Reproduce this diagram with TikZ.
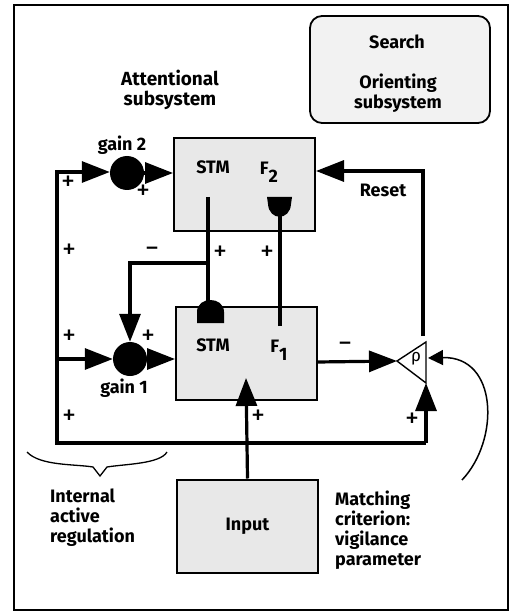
\documentclass[tikz,border=0pt]{standalone}
\usepackage{fontspec}
\setmainfont{Fira Sans}
\usetikzlibrary{arrows.meta}
\begin{document}
\begin{tikzpicture}[x=1pt,y=-1pt,
  line/.style={line width=3.2pt},
  arr/.style={-{Triangle[length=28pt,width=21pt]}},
  smallarr/.style={-{Triangle[length=15pt,width=15pt]}},
  box/.style={draw,line width=2pt,fill=gray!18,minimum width=141pt,minimum height=93pt,inner sep=0pt},
  gain/.style={circle,fill=black,minimum size=34pt,inner sep=0pt},
  lbl/.style={font=\bfseries\fontsize{18}{20}\selectfont,inner sep=0pt},
  sgn/.style={font=\fontsize{28}{28}\selectfont,inner sep=0pt},
  txt/.style={lbl,align=left,anchor=north west}]
\useasboundingbox (0,0) rectangle (510,612);
\draw[line width=1.5pt] (14,5) rectangle (508,610);
% boxes
\node[box] (F2) at (244.5,184.5) {};
\node[box] (F1) at (246.5,353.5) {};
\node[box] (In) at (247.5,526) {};
\node[lbl] at (In) {Input};
\node[lbl] (stm2) at (213,167) {STM};
\node[lbl] (f2) at (269,172) {F\raisebox{-0.45em}{2}};
\node[lbl] (stm1) at (213,345) {STM};
\node[lbl] (f1) at (279,350) {F\raisebox{-0.45em}{1}};
\node[draw,line width=1.8pt,rounded corners=12pt,fill=gray!10,minimum width=180pt,minimum height=107pt] (orient) at (400,69.5) {};
\node[lbl] at (397,42) {Search};
\node[lbl,align=center] at (398,93) {Orienting\\subsystem};
\node[lbl,align=center,font=\bfseries\fontsize{19}{20}\selectfont] at (170,90) {Attentional\\subsystem};
% gains
\node[gain] (g2) at (127,173) {};
\node[gain] (g1) at (130,359) {};
\node[lbl] at (122,145) {gain 2};
\node[lbl] at (124,388) {gain 1};
% rho
\coordinate (rhoL) at (397,361);
\coordinate (rhoT) at (426,342);
\coordinate (rhoB) at (426,383);
\coordinate (rhoR) at (428,358);
\draw[line width=1.4pt,fill=white] (rhoL) -- (rhoT) -- (rhoB) -- cycle;
\node[font=\fontsize{17}{17}\selectfont] (rho) at (416,359) {ρ};
% coordinates
\coordinate (TL) at (57,172);
\coordinate (ML) at (57,359);
\coordinate (BL) at (57,443);
\coordinate (BR) at (426,443);
\coordinate (inTip) at (246,378);
\coordinate (a) at (208,197);
\coordinate (br) at (208,263);
\coordinate (aEnd) at (208,304);
\coordinate (b) at (280,326);
\coordinate (bEnd) at (280,212);
\coordinate (f1out) at (317,362);
\coordinate (rTop) at (423,336);
\coordinate (f2in) at (316,171);
\coordinate (cEnd) at (462,480);
% main lines
\draw[line] (TL) -- (BL) -- (BR);
\draw[line,arr] (BR) -- (rhoB);
\draw[line,arr] (TL -| 55.4,0) -- (g2.west |- TL);
\draw[line,arr] (ML) -- (g1);
\draw[line,arr] (g2.east) -- (g2.east -| F2.west);
\draw[line,arr] (g1.east) -- (g1.east -| F1.west);
\draw[line,arr] (In.north) -- (inTip);
\draw[line] (a) -- (aEnd);
\draw[line,arr] (br) -| (g1);
\draw[line] (b) -- (bEnd);
\draw[line,arr] (f1out) -- (rhoL);
\draw[line,arr] (rTop) |- (f2in);
% domes
\fill (197,323) -- (197,312) .. controls (197,296) and (224,296) .. (224,312) -- (224,323) -- cycle;
\fill (267,197) -- (292,197) -- (291,204) .. controls (290,221) and (269,221) .. (268,204) -- cycle;
% curve
\draw[line width=1.5pt,smallarr] (cEnd) .. controls (500,440) and (498,356) .. (rhoR);
% brace
\draw[line width=1.3pt] (27,452) .. controls (40,466) and (75,464) .. (93,467) -- (100,476) -- (107,467) .. controls (125,464) and (160,464) .. (167,452);
% labels
\node[lbl] at (383,190) {Reset};
\node[sgn] at (68,183) {+};
\node[sgn] at (143,192) {+};
\node[sgn] at (69,251) {+};
\node[sgn] at (152,252) {−};
\node[sgn] at (220,253) {+};
\node[sgn] at (267,253) {+};
\node[sgn] at (69,337) {+};
\node[sgn] at (148,337) {+};
\node[sgn] at (345,347) {−};
\node[sgn] at (69,417) {+};
\node[sgn] at (258,417) {+};
\node[sgn] at (412,420) {+};
\node[txt] at (50,489) {Internal\\active\\regulation};
\node[txt] at (335,491) {Matching\\criterion:\\vigilance\\parameter};
\end{tikzpicture}
\end{document}
